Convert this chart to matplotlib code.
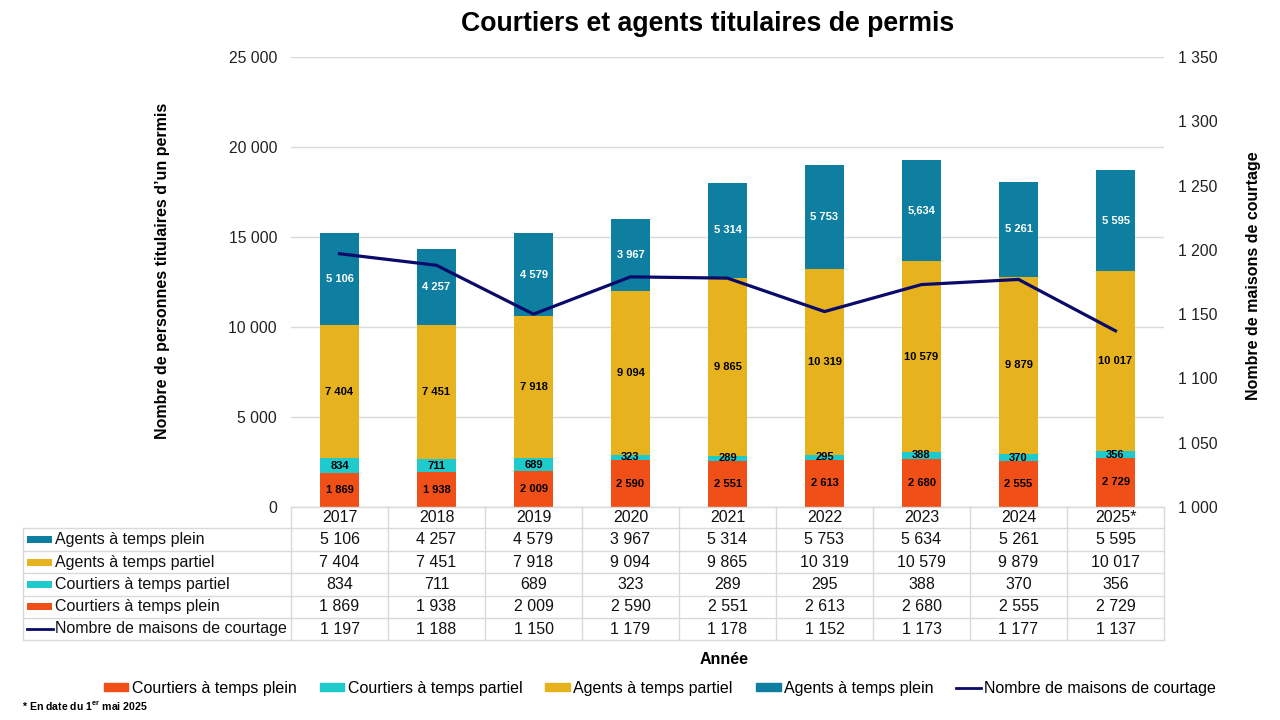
import matplotlib
matplotlib.use("Agg")
import matplotlib.pyplot as plt
import matplotlib.transforms as mtransforms
from matplotlib.lines import Line2D
from matplotlib.patches import Rectangle, Patch
import numpy as np

# ---------------- data ----------------
years = ["2017", "2018", "2019", "2020", "2021", "2022", "2023", "2024", "2025*"]
courtiers_plein = [1869, 1938, 2009, 2590, 2551, 2613, 2680, 2555, 2729]
courtiers_partiel = [834, 711, 689, 323, 289, 295, 388, 370, 356]
agents_partiel = [7404, 7451, 7918, 9094, 9865, 10319, 10579, 9879, 10017]
agents_plein = [5106, 4257, 4579, 3967, 5314, 5753, 5634, 5261, 5595]
maisons = [1197, 1188, 1150, 1179, 1178, 1152, 1173, 1177, 1137]
# label quirk as printed on the chart
bar_label_override = {("agents_plein", 6): "5,634"}

left_ticks = [0, 5000, 10000, 15000, 20000, 25000]
right_ticks = [1000, 1050, 1100, 1150, 1200, 1250, 1300, 1350]

names = {
    "courtiers_plein": "Courtiers à temps plein",
    "courtiers_partiel": "Courtiers à temps partiel",
    "agents_partiel": "Agents à temps partiel",
    "agents_plein": "Agents à temps plein",
    "maisons": "Nombre de maisons de courtage",
}
colors = {
    "courtiers_plein": "#F04F17",
    "courtiers_partiel": "#1FCACD",
    "agents_partiel": "#E6B31E",
    "agents_plein": "#0E7FA0",
    "maisons": "#0A0A6B",
}

def fmt(v):
    return f"{v:,}".replace(",", " ")

plt.rcParams['font.family'] = ['Liberation Sans', 'DejaVu Sans']

W, H = 1280, 720
fig = plt.figure(figsize=(12.8, 7.2), dpi=100)

L, R, T, B = 291, 1164, 57, 507
ax = fig.add_axes([L / W, 1 - B / H, (R - L) / W, (B - T) / H])
ax2 = ax.twinx()

x = np.arange(len(years))
series = [("courtiers_plein", courtiers_plein),
          ("courtiers_partiel", courtiers_partiel),
          ("agents_partiel", agents_partiel),
          ("agents_plein", agents_plein)]
bottom = np.zeros(len(years))
for key, vals in series:
    vals = np.array(vals)
    ax.bar(x, vals, width=0.4, bottom=bottom, color=colors[key], zorder=3,
           label=names[key])
    tc = "white" if key == "agents_plein" else "black"
    for i, v in enumerate(vals):
        lab = bar_label_override.get((key, i), fmt(v))
        ax.text(x[i], bottom[i] + v / 2, lab, ha="center", va="center",
                fontsize=8, fontweight="bold", color=tc, zorder=5)
    bottom = bottom + vals

ax2.plot(x, maisons, color=colors["maisons"], lw=2.3, zorder=6,
         label=names["maisons"])

ax.set_xlim(-0.5, len(years) - 0.5)
ax.set_ylim(0, 25000)
ax2.set_ylim(1000, 1350)
ax.set_yticks(left_ticks)
ax.set_yticklabels([fmt(t) for t in left_ticks])
ax2.set_yticks(right_ticks)
ax2.set_yticklabels([fmt(t) for t in right_ticks])
ax.set_xticks([])
for a in (ax, ax2):
    for s in a.spines.values():
        s.set_visible(False)
    a.tick_params(axis="y", length=0, labelsize=11.3, colors="#222222", pad=10)
ax.grid(axis="y", color="#D9D9D9", lw=1, zorder=0)
ax.set_axisbelow(True)

ax.set_ylabel("Nombre de personnes titulaires d\u2019un permis", fontsize=11.5,
              fontweight="bold")
ax.yaxis.set_label_coords((170 - L) / (R - L), 0.525)
ax2.set_ylabel("Nombre de maisons de courtage", fontsize=11.5, fontweight="bold")
ax2.yaxis.set_label_coords((1246 - L) / (R - L), 0.515)

# --------------- data table ---------------
ypix = mtransforms.Affine2D().scale(1 / W, -1 / H).translate(0, 1) + fig.transFigure
bt = mtransforms.blended_transform_factory(ax.transData, ypix)
grid_c = "#D9D9D9"

row_edges = [507, 528.3, 551, 573.3, 595.7, 618, 640]
table_rows = [("agents_plein", agents_plein),
              ("agents_partiel", agents_partiel),
              ("courtiers_partiel", courtiers_partiel),
              ("courtiers_plein", courtiers_plein),
              ("maisons", maisons)]
tab_left = 22.7
n = len(years)

# horizontal lines
for j, yy in enumerate(row_edges):
    if j == 0:
        fig.add_artist(Line2D([-0.5, n - 0.5], [yy, yy], transform=bt, color=grid_c, lw=1))
    else:
        fig.add_artist(Line2D([tab_left, L], [yy, yy], transform=ypix, color=grid_c, lw=1))
        fig.add_artist(Line2D([-0.5, n - 0.5], [yy, yy], transform=bt, color=grid_c, lw=1))
# vertical lines
for i in range(n + 1):
    fig.add_artist(Line2D([i - 0.5, i - 0.5], [row_edges[0], row_edges[-1]],
                          transform=bt, color=grid_c, lw=1))
fig.add_artist(Line2D([tab_left, tab_left], [row_edges[1], row_edges[-1]],
                      transform=ypix, color=grid_c, lw=1))

# header
for i, yr in enumerate(years):
    fig.text(i, (row_edges[0] + row_edges[1]) / 2, yr, transform=bt,
             ha="center", va="center", fontsize=11.5, color="#111111")
# rows
for r, (key, vals) in enumerate(table_rows):
    yc = (row_edges[r + 1] + row_edges[r + 2]) / 2
    if key == "maisons":
        fig.add_artist(Line2D([27, 53], [yc, yc], transform=ypix,
                              color=colors[key], lw=2))
    else:
        fig.add_artist(Rectangle((27, yc - 3.5), 25, 7, transform=ypix,
                                 color=colors[key], lw=0))
    fig.text(55, yc, names[key], transform=ypix, ha="left", va="center",
             fontsize=11.5, color="#111111")
    for i, v in enumerate(vals):
        fig.text(i, yc, fmt(v), transform=bt, ha="center", va="center",
                 fontsize=11.5, color="#111111")

# titles
fig.text(708, 24, "Courtiers et agents titulaires de permis", transform=ypix,
         ha="center", va="center", fontsize=19.2, fontweight="bold")
fig.text(724, 659, "Année", transform=ypix, ha="center", va="center",
         fontsize=11.5, fontweight="bold")

plt.rcParams['mathtext.fontset'] = 'custom'
plt.rcParams['mathtext.bf'] = 'Liberation Sans:bold'
plt.rcParams['mathtext.rm'] = 'Liberation Sans:bold'
fig.text(22, 706, r"* En date du 1$^{\mathbf{er}}$ mai 2025", transform=ypix,
         ha="left", va="center", fontsize=7.6, fontweight="bold")

# legend
handles = [Patch(color=colors[k], label=names[k]) for k, _ in series]
handles.append(Line2D([0], [0], color=colors["maisons"], lw=2, label=names["maisons"]))
leg = fig.legend(handles=handles, loc="center", ncol=5,
                 bbox_to_anchor=(660 / W, 1 - 688 / H), frameon=False,
                 fontsize=11.5, handlelength=1.55, handleheight=0.45,
                 handletextpad=0.2, columnspacing=1.45)

fig.savefig("out.png", dpi=100)
